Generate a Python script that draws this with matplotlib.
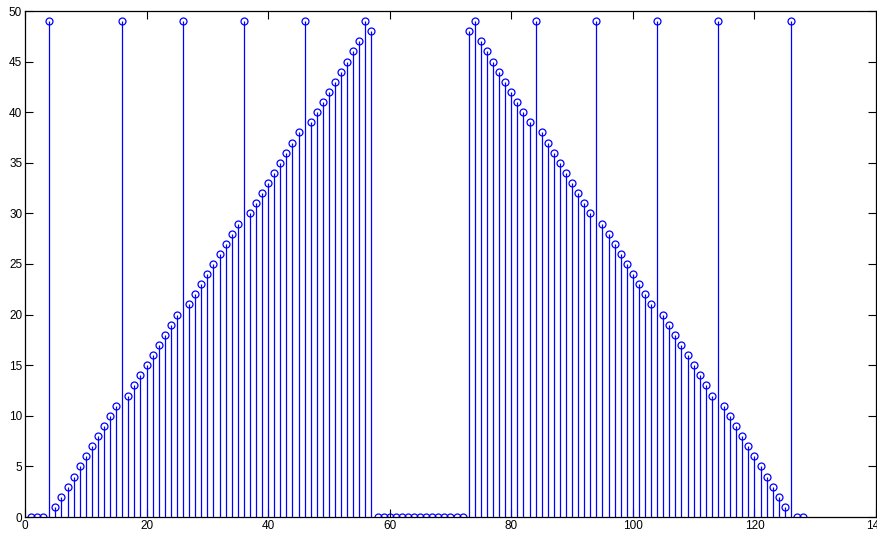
import matplotlib
matplotlib.use("Agg")
import matplotlib.pyplot as plt
import numpy as np

# sample index
n = list(range(1, 129))
# sample values
values = [0, 0, 0, 49,
          1, 2, 3, 4, 5, 6, 7, 8, 9, 10, 11, 49,
          12, 13, 14, 15, 16, 17, 18, 19, 20, 49,
          21, 22, 23, 24, 25, 26, 27, 28, 29, 49,
          30, 31, 32, 33, 34, 35, 36, 37, 38, 49,
          39, 40, 41, 42, 43, 44, 45, 46, 47, 49,
          48,
          0, 0, 0, 0, 0, 0, 0, 0, 0, 0, 0, 0, 0, 0, 0,
          48, 49,
          47, 46, 45, 44, 43, 42, 41, 40, 39, 49,
          38, 37, 36, 35, 34, 33, 32, 31, 30, 49,
          29, 28, 27, 26, 25, 24, 23, 22, 21, 49,
          20, 19, 18, 17, 16, 15, 14, 13, 12, 49,
          11, 10, 9, 8, 7, 6, 5, 4, 3, 2, 1, 49,
          0, 0]

xticks = [0, 20, 40, 60, 80, 100, 120, 140]
yticks = [0, 5, 10, 15, 20, 25, 30, 35, 40, 45, 50]

plt.rcParams['font.family'] = ['Liberation Sans', 'DejaVu Sans']

fig = plt.figure(figsize=(8.78, 5.35), dpi=100)
ax = fig.add_axes([25/878, 18/535, 851/878, 506/535])

markerline, stemlines, baseline = ax.stem(n, values, linefmt='-', markerfmt='o', basefmt=' ')
plt.setp(stemlines, color='#0000ff', linewidth=0.9)
plt.setp(markerline, color='#0000ff', markerfacecolor='none', markeredgecolor='#0000ff',
         markersize=5, markeredgewidth=0.9)

ax.set_xlim(0, 140)
ax.set_ylim(0, 50)
ax.set_xticks(xticks)
ax.set_yticks(yticks)
ax.set_xticklabels([str(t) for t in xticks], fontsize=8.5)
ax.set_yticklabels([str(t) for t in yticks], fontsize=8.5)
ax.tick_params(direction='in', length=6, width=0.8, top=True, right=True, pad=2, colors='black')
for s in ax.spines.values():
    s.set_linewidth(0.9)
    s.set_color('black')

fig.savefig('out.png', dpi=100)
